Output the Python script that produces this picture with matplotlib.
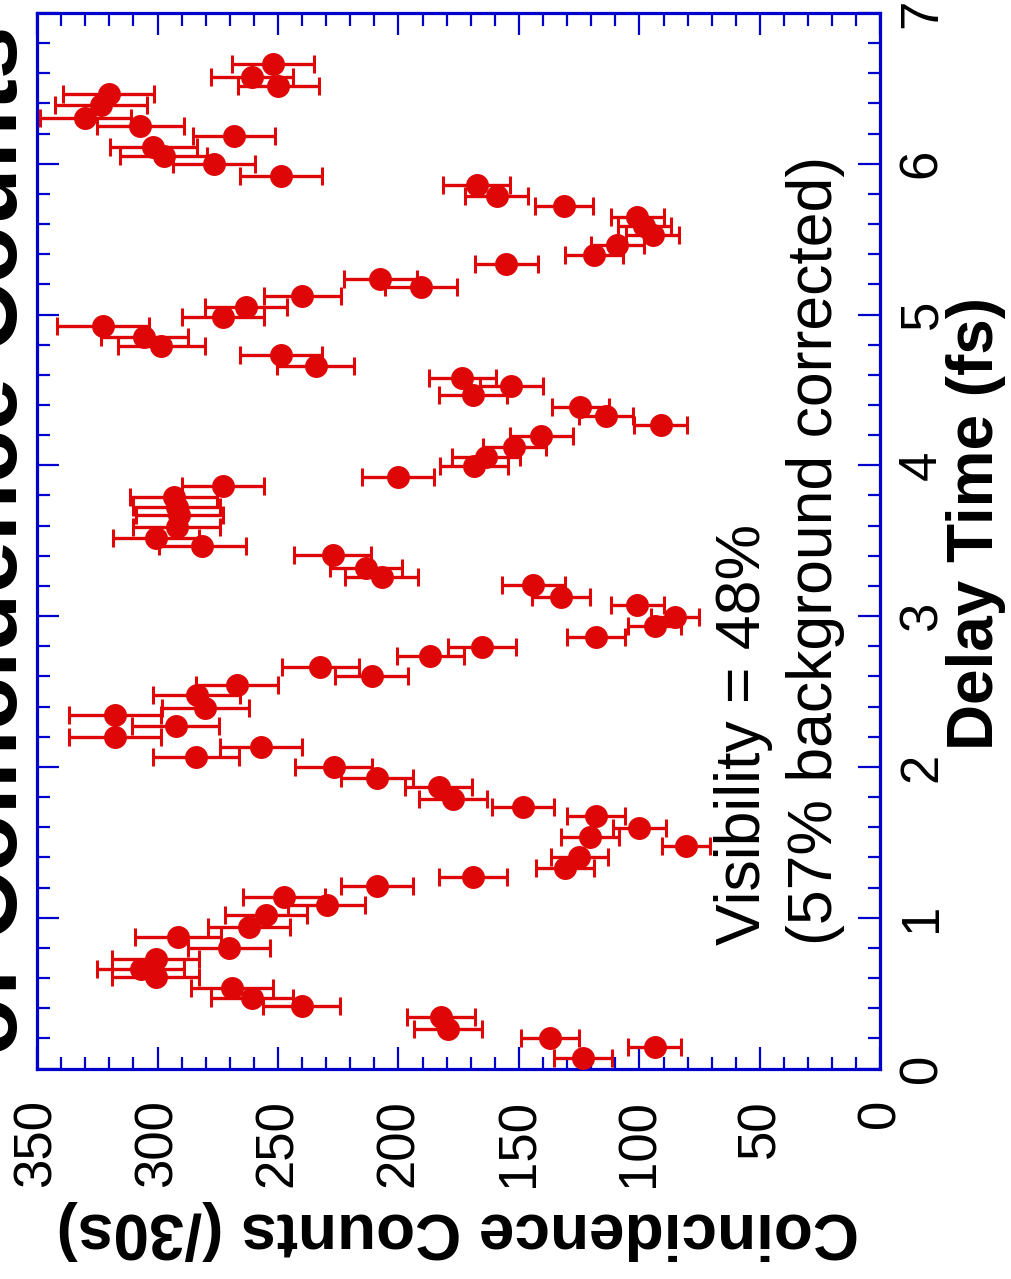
import matplotlib
matplotlib.use("Agg")
import matplotlib.pyplot as plt
from matplotlib.ticker import MultipleLocator

# Delay scan of two-photon coincidences
delay_fs = [
    0.068, 0.145, 0.200, 0.260, 0.339, 0.414, 0.470, 0.532, 0.604, 0.662,
    0.725, 0.797, 0.870, 0.936, 1.018, 1.084, 1.139, 1.212, 1.268, 1.328,
    1.405, 1.478, 1.537, 1.597, 1.674, 1.732, 1.787, 1.869, 1.924, 2.001,
    2.064, 2.134, 2.200, 2.271, 2.344, 2.389, 2.477, 2.543, 2.603, 2.661,
    2.737, 2.797, 2.859, 2.934, 2.996, 3.074, 3.129, 3.206, 3.261, 3.317,
    3.405, 3.468, 3.515, 3.593, 3.670, 3.726, 3.792, 3.863, 3.920, 3.995,
    4.057, 4.119, 4.194, 4.267, 4.327, 4.389, 4.466, 4.526, 4.577, 4.660,
    4.731, 4.793, 4.853, 4.926, 4.986, 5.048, 5.123, 5.180, 5.238, 5.336,
    5.395, 5.461, 5.527, 5.587, 5.649, 5.720, 5.786, 5.860, 5.918, 5.997,
    6.054, 6.113, 6.187, 6.247, 6.304, 6.389, 6.465, 6.517, 6.575, 6.659,
]
counts = [
    123.6, 93.6, 137.3, 179.5, 182.3, 240.2, 260.6, 268.9, 300.8, 307.0,
    300.8, 270.5, 291.5, 262.0, 255.1, 229.7, 247.6, 208.8, 169.0, 131.0,
    124.9, 80.6, 120.4, 100.1, 118.0, 148.3, 177.4, 183.4, 208.8, 226.9,
    284.0, 256.9, 317.7, 292.5, 317.7, 280.1, 283.8, 267.0, 211.2, 232.5,
    186.8, 165.3, 118.0, 93.6, 85.2, 101.0, 132.4, 144.0, 207.0, 213.4,
    227.3, 281.4, 300.6, 292.0, 291.0, 292.0, 293.3, 272.8, 200.1, 168.6,
    163.6, 151.9, 140.8, 91.2, 113.9, 124.5, 169.0, 153.2, 173.5, 234.3,
    248.6, 298.4, 305.5, 322.5, 272.9, 263.2, 240.0, 190.6, 207.5, 155.2,
    119.0, 109.3, 94.6, 98.0, 101.0, 131.5, 159.3, 167.6, 248.6, 276.7,
    297.5, 301.7, 268.2, 307.1, 329.9, 323.5, 320.3, 249.8, 260.9, 252.2,
]
count_err = [
    12, 11, 12, 14, 14, 16, 17, 17, 18, 18,
    18, 17, 18, 17, 17, 16, 17, 15, 14, 12,
    12, 10, 12, 11, 12, 13, 14, 14, 15, 16,
    18, 17, 19, 18, 19, 18, 18, 17, 15, 16,
    14, 14, 12, 11, 10, 11, 12, 13, 15, 15,
    16, 18, 18, 18, 18, 18, 18, 17, 15, 14,
    14, 13, 13, 11, 11, 12, 14, 13, 14, 16,
    17, 18, 18, 19, 17, 17, 16, 15, 15, 13,
    12, 11, 11, 11, 11, 12, 13, 14, 17, 17,
    18, 18, 17, 18, 19, 19, 19, 17, 17, 17,
]

count_ticks = [0, 50, 100, 150, 200, 250, 300, 350]
delay_ticks = [0, 1, 2, 3, 4, 5, 6, 7]

RED = "#de0606"
BLUE = "#0000cc"
FONT = ["Liberation Sans", "DejaVu Sans"]
plt.rcParams["font.family"] = FONT

W, H = 1012, 1279
fig = plt.figure(figsize=(W / 100, H / 100), dpi=100)
fig.patch.set_facecolor("white")

# Axes rectangle in pixel units (frame edges)
x0, x1 = 37.0, 880.5
y_top, y_bot = 12.9, 1068.5
ax = fig.add_axes([x0 / W, (H - y_bot) / H, (x1 - x0) / W, (y_bot - y_top) / H])

ax.errorbar(counts, delay_fs, xerr=count_err, fmt="o", color=RED,
            ms=15.5, mec=RED, elinewidth=2.4, capsize=6.2, capthick=2.2,
            zorder=3)

ax.set_xlim(350, 0)
ax.set_ylim(0, 7)
ax.set_xticks(count_ticks)
ax.set_yticks(delay_ticks)
ax.xaxis.set_minor_locator(MultipleLocator(10))
ax.yaxis.set_minor_locator(MultipleLocator(0.2))

for sp in ax.spines.values():
    sp.set_color(BLUE)
    sp.set_linewidth(2.3)

ax.tick_params(which="both", direction="in", color=BLUE, width=1.6,
               top=True, bottom=True, left=True, right=True,
               labelleft=False, labelright=True,
               labelbottom=True, labeltop=False)
ax.tick_params(which="major", length=16)
ax.tick_params(which="minor", length=9)
ax.tick_params(axis="x", which="major", labelsize=38, pad=22, labelrotation=90)
ax.tick_params(axis="y", which="major", labelsize=38, pad=12, labelrotation=90)
for lab in ax.get_yticklabels():
    lab.set_va("center")

# Rotated annotation inside the plot
ax_text_kw = dict(rotation=90, ha="center", va="bottom", fontsize=45,
                  color="black", transform=fig.transFigure)
fig.text(744 / W, 1 - 945 / H, "Visibility = 48%", **ax_text_kw)
fig.text(816 / W, 1 - 945 / H, "(57% background corrected)", **ax_text_kw)

# Axis titles
fig.text(976 / W, 1 - 524 / H, "Delay Time (fs)", rotation=90,
         ha="center", va="center", fontsize=46, fontweight="bold")
fig.text(458 / W, 1 - 1230 / H, "Coincidence Counts (/30s)", rotation=180,
         ha="center", va="center", fontsize=46, fontweight="bold")

# Plot title, running along the left edge
fig.text(37 / W, 1 - 540 / H, "of Coincidence Counts", rotation=90,
         ha="right", va="center", fontsize=68, fontweight="bold")

fig.savefig("out.png", dpi=100, facecolor="white")
